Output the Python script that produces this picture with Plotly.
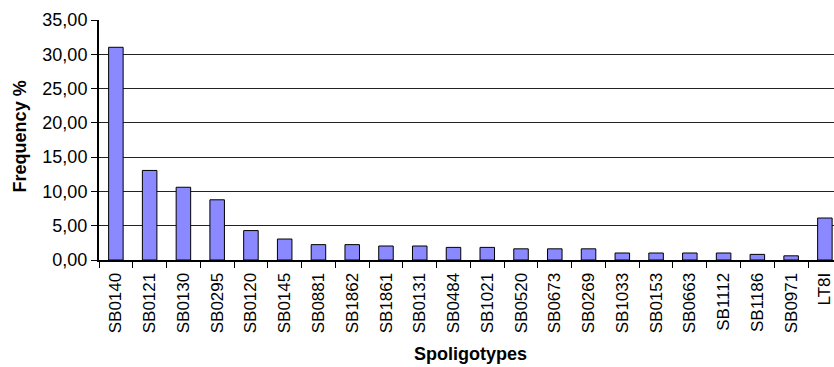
import plotly.graph_objects as go

categories = ["SB0140", "SB0121", "SB0130", "SB0295", "SB0120", "SB0145", "SB0881",
              "SB1862", "SB1861", "SB0131", "SB0484", "SB1021", "SB0520", "SB0673",
              "SB0269", "SB1033", "SB0153", "SB0663", "SB1112", "SB1186", "SB0971", "LT8I"]
frequency = [31.02, 13.06, 10.61, 8.78, 4.29, 3.06, 2.24, 2.24, 2.04, 2.04, 1.84, 1.84,
             1.63, 1.63, 1.63, 1.02, 1.02, 1.02, 1.02, 0.82, 0.61, 6.12]
y_ticks = [0, 5, 10, 15, 20, 25, 30, 35]
x_title = "Spoligotypes"
y_title = "Frequency %"

FONT = "Liberation Sans, Arial, sans-serif"

fig = go.Figure(go.Bar(
    x=categories, y=frequency,
    marker=dict(color="#8B89FF", line=dict(color="black", width=1)),
    width=0.43,
))

fig.update_layout(
    width=834, height=367,
    margin=dict(l=99, r=0, t=20, b=107, autoexpand=False),
    plot_bgcolor="white", paper_bgcolor="white",
    separators=", ",
    showlegend=False,
    font=dict(family=FONT, size=17, color="black"),
)
fig.update_xaxes(
    range=[-0.5, 21.27],
    automargin=False,
    tickangle=-90,
    tickson="boundaries",
    ticks="outside", ticklen=6, tickcolor="black", tickwidth=1,
    ticklabelstandoff=4,
    showline=True, linecolor="black", linewidth=2,
    showgrid=False,
    tickfont=dict(size=17),
)
fig.update_yaxes(
    range=[0, 35],
    automargin=False,
    tickvals=y_ticks,
    tickformat=".2f",
    ticks="outside", ticklen=6, tickcolor="black", tickwidth=1,
    showline=True, linecolor="black", linewidth=2,
    showgrid=True, gridcolor="#222222", gridwidth=1,
    zeroline=False,
    tickfont=dict(size=18),
)
fig.add_annotation(text="<b>" + x_title + "</b>", xref="paper", yref="paper",
                   x=(470 - 99) / 735, y=-0.437, xanchor="center", yanchor="bottom",
                   showarrow=False, font=dict(size=18), borderpad=0)
fig.add_annotation(text="<b>" + y_title + "</b>", xref="paper", yref="paper",
                   x=-0.1075, y=0.515, xanchor="center", yanchor="middle", textangle=-90,
                   showarrow=False, font=dict(size=18))

fig.write_html("out.html", config={"displayModeBar": False},
               post_script="document.body.style.margin='0';document.body.style.overflow='hidden';")
